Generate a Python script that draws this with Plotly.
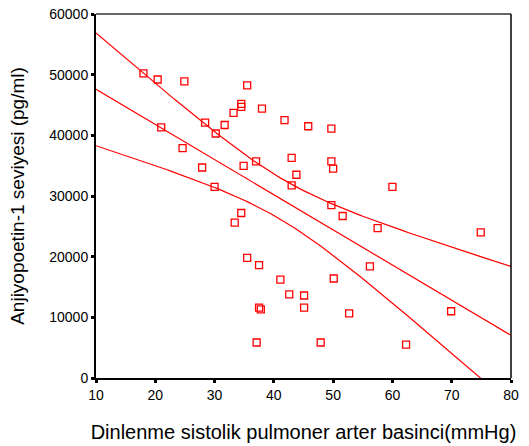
import numpy as np
import plotly.graph_objects as go

# Resting systolic pulmonary artery pressure (mmHg)
pap = [18.0, 20.4, 24.9, 35.5, 34.5, 34.5, 38.0, 33.2, 41.8, 45.8,
       28.4, 31.7, 21.0, 30.2, 24.6, 43.0, 37.0, 34.9, 27.9, 43.8,
       43.0, 30.0, 49.7, 49.7, 50.0, 60.0, 34.5, 33.4, 35.5, 37.5,
       41.1, 42.6, 45.1, 45.1, 37.5, 37.8, 37.1, 49.7, 51.6, 57.5,
       74.9, 56.2, 50.1, 52.7, 69.9, 47.9, 62.3]
# Angiopoietin-1 level (pg/ml)
ang1 = [50200, 49200, 48900, 48250, 45200, 44700, 44400, 43700, 42500, 41500,
        42100, 41700, 41300, 40300, 37900, 36300, 35700, 34950, 34700, 33500,
        31750, 31500, 41100, 35700, 34500, 31500, 27200, 25600, 19800, 18600,
        16200, 13800, 13600, 11600, 11600, 11300, 5850, 28500, 26700, 24700,
        24000, 18400, 16400, 10650, 11000, 5850, 5500]

x_ticks = [10, 20, 30, 40, 50, 60, 70, 80]
y_ticks = [0, 10000, 20000, 30000, 40000, 50000, 60000]
y_tick_text = ["0", "10000", "20000", "30000", "40000", "50000", "60000"]
x_title = "Dinlenme sistolik pulmoner arter basinci(mmHg)"
y_title = "Anjiyopoetin-1 seviyesi (pg/ml)"

# Linear fit with 95% confidence band for the mean
x = np.array(pap, dtype=float)
y = np.array(ang1, dtype=float)
n = len(x)
b1, b0 = np.polyfit(x, y, 1)
resid = y - (b0 + b1 * x)
s = np.sqrt(np.sum(resid ** 2) / (n - 2))
sxx = np.sum((x - x.mean()) ** 2)
t_crit = 2.014
xf = np.linspace(10, 80, 141)
yf = b0 + b1 * xf
half = t_crit * s * np.sqrt(1.0 / n + (xf - x.mean()) ** 2 / sxx)

red = "#ff0000"
fig = go.Figure()
for yy in (yf + half, yf, yf - half):
    fig.add_trace(go.Scatter(x=xf, y=yy, mode="lines",
                             line=dict(color=red, width=1.2),
                             hoverinfo="skip", showlegend=False))
fig.add_trace(go.Scatter(x=pap, y=ang1, mode="markers",
                         marker=dict(symbol="square-open", size=7, color=red,
                                     line=dict(color=red, width=1.3)),
                         showlegend=False))

font = "Liberation Sans, Arial, sans-serif"
fig.update_layout(
    width=529, height=446,
    margin=dict(l=96, r=18, t=14, b=68),
    plot_bgcolor="white", paper_bgcolor="white",
    font=dict(family=font, color="black", size=14),
    xaxis=dict(range=[10, 80], tickvals=x_ticks, ticks="outside", ticklen=3,
               tickwidth=3, tickcolor="black", showline=True, linecolor="black",
               linewidth=2, showgrid=False, zeroline=False, automargin=False,
               tickfont=dict(size=14),
               title=dict(text=x_title, font=dict(size=20), standoff=23)),
    yaxis=dict(range=[0, 60000], tickvals=y_ticks, ticktext=y_tick_text,
               ticks="outside", ticklen=3,
               tickwidth=3, tickcolor="black", showline=True, linecolor="black",
               linewidth=2, showgrid=False, zeroline=False, automargin=False,
               tickfont=dict(size=14), ticklabeloverflow="allow",
               title=dict(text=y_title, font=dict(size=19), standoff=20)),
    shapes=[
        dict(type="line", xref="paper", yref="paper", x0=0, x1=1, y0=1, y1=1,
             line=dict(color="#666666", width=2)),
        dict(type="line", xref="paper", yref="paper", x0=1, x1=1, y0=0, y1=1,
             line=dict(color="black", width=1.5)),
    ],
)
fig.write_html("out.html",
               config={"displayModeBar": False},
               post_script="document.body.style.margin='0';"
                           "document.body.style.overflow='hidden';")
